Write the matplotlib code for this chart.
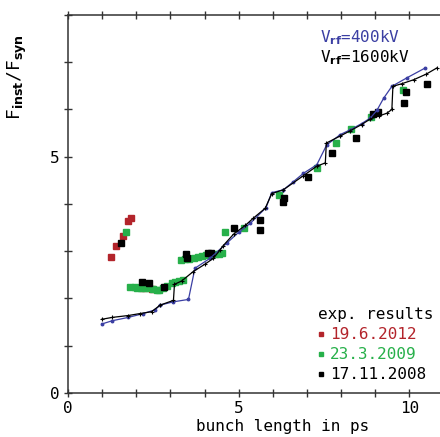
#!/usr/bin/env python3
import numpy as np
import matplotlib
matplotlib.use('Agg')
import matplotlib.pyplot as plt
from matplotlib.ticker import MultipleLocator, FuncFormatter

plt.rcParams['font.family'] = ['DejaVu Sans Mono']
plt.rcParams['mathtext.fontset'] = 'dejavusans'

# simulation, V_rf = 400 kV
sim400_x = [0.99, 1.3, 1.77, 2.2, 2.55, 2.70, 3.09, 3.53, 3.72, 4.16, 4.65, 5.0, 5.34,
            5.8, 5.97, 6.31, 6.6, 6.90, 7.29, 7.58, 7.98, 8.27, 8.6, 8.86, 9.05,
            9.25, 9.49, 9.93, 10.47]
sim400_y = [1.46, 1.53, 1.60, 1.68, 1.76, 1.86, 1.93, 1.98, 2.64, 2.85, 3.17, 3.40, 3.59,
            3.92, 4.24, 4.30, 4.47, 4.65, 4.83, 5.25, 5.47, 5.57, 5.70, 5.82, 5.98,
            6.24, 6.49, 6.67, 6.88]

# simulation, V_rf = 1600 kV
sim1600_x = [0.99, 1.3, 1.77, 2.1, 2.45, 2.70, 3.09, 3.12, 3.33, 3.67, 4.0, 4.26, 4.46,
             4.55, 4.85, 5.2, 5.43, 5.78, 5.97, 6.31, 6.9, 7.29, 7.54, 7.57, 7.98,
             8.27, 8.6, 8.86, 9.1, 9.34, 9.49, 9.52, 9.8, 10.13, 10.5, 10.81]
sim1600_y = [1.56, 1.60, 1.64, 1.68, 1.72, 1.86, 1.96, 2.30, 2.37, 2.57, 2.72, 2.85, 3.03,
             3.12, 3.36, 3.55, 3.70, 3.91, 4.22, 4.30, 4.60, 4.80, 4.87, 5.29, 5.44,
             5.55, 5.68, 5.80, 5.86, 5.92, 6.00, 6.49, 6.55, 6.63, 6.75, 6.88]

# measurements
red_x = [1.25, 1.41, 1.62, 1.75, 1.84, 2.19, 2.45]
red_y = [2.87, 3.11, 3.32, 3.65, 3.71, 2.22, 2.20]

green_x = [1.69, 1.82, 1.95, 2.01, 2.13, 2.25, 2.38, 2.50, 2.60, 2.67, 2.78, 2.89, 3.04,
           3.14, 3.24, 3.38, 3.30, 3.42, 3.55, 3.68, 3.80, 3.92, 4.05, 4.18, 4.30,
           4.42, 4.51, 4.60, 5.17, 6.17, 7.29, 7.86, 8.30, 8.87, 9.83]
green_y = [3.40, 2.25, 2.24, 2.23, 2.23, 2.23, 2.22, 2.20, 2.19, 2.17, 2.22, 2.27, 2.32,
           2.35, 2.38, 2.39, 2.82, 2.83, 2.84, 2.86, 2.87, 2.89, 2.91, 2.93, 2.94,
           2.95, 2.97, 3.40, 3.50, 4.18, 4.77, 5.30, 5.58, 5.85, 6.42]

black_x = [1.55, 2.16, 2.38, 2.82, 3.46, 3.50, 4.11, 4.20, 4.85, 5.63, 5.63, 6.31, 6.33,
           7.02, 7.73, 8.45, 8.93, 9.07, 9.85, 9.89, 10.52]
black_y = [3.17, 2.35, 2.33, 2.25, 2.94, 2.85, 2.96, 2.97, 3.49, 3.67, 3.45, 4.05, 4.12,
           4.58, 5.07, 5.40, 5.91, 5.95, 6.14, 6.38, 6.53]

blue = '#3b3fa3'
red = '#b3242b'
green = '#27b04a'

fig = plt.figure(figsize=(4.4, 4.37), dpi=100)
ax = fig.add_axes([0.1545, 0.1007, 0.8455, 0.865])

ax.plot(sim400_x, sim400_y, color=blue, lw=0.9, marker='o', ms=1.8, zorder=3)
ax.plot(sim1600_x, sim1600_y, color='black', lw=0.9, marker='+', ms=3, mew=0.8, zorder=3)

ax.plot(red_x, red_y, 's', color=red, ms=4.5, ls='none', label='19.6.2012', zorder=2)
ax.plot(green_x, green_y, 's', color=green, ms=4.5, ls='none', label='23.3.2009', zorder=2)
ax.plot(black_x, black_y, 's', color='black', ms=5, ls='none', label='17.11.2008', zorder=2)

ax.set_xlim(0, 10.9)
ax.set_ylim(0, 8)

ax.xaxis.set_major_locator(MultipleLocator(1))
ax.yaxis.set_major_locator(MultipleLocator(1))
fmt = FuncFormatter(lambda v, p: '%d' % v if abs(v % 5) < 1e-6 else '')
ax.xaxis.set_major_formatter(fmt)
ax.yaxis.set_major_formatter(fmt)
ax.tick_params(axis='both', direction='inout', length=6, width=1, color='#333333',
               labelsize=11.5, pad=3)
ax.tick_params(axis='x', top=True, pad=2.5)

for s in ['left', 'bottom', 'top']:
    ax.spines[s].set_color('#333333')
    ax.spines[s].set_linewidth(1.1)
ax.spines['right'].set_visible(False)

ax.set_xlabel('bunch length in ps', fontsize=11.5)
ax.xaxis.set_label_coords(0.578, -0.07)
ax.set_ylabel(r'F$_{\mathbf{inst}}$/F$_{\mathbf{syn}}$', fontsize=13)
ax.yaxis.set_label_coords(-0.105, 0.836)

ax.text(7.38, 7.52, r'V$_{\mathbf{rf}}$=400kV', color=blue, fontsize=11.5, va='center')
ax.text(7.38, 7.10, r'V$_{\mathbf{rf}}$=1600kV', color='black', fontsize=11.5, va='center')

leg = ax.legend(loc='lower right', bbox_to_anchor=(1.02, -0.01), frameon=False,
                title='exp. results', fontsize=11.5, title_fontsize=11.5,
                handlelength=0.4, handletextpad=0.4, labelspacing=0.32,
                markerscale=0.7, labelcolor='markerfacecolor', alignment='left')

plt.savefig('out.png', dpi=100)
